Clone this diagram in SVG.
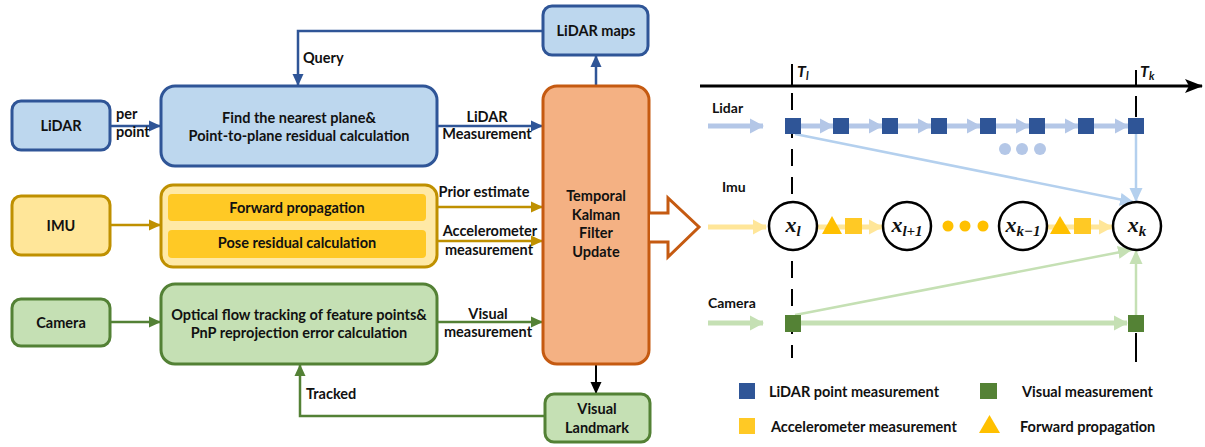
<svg xmlns="http://www.w3.org/2000/svg" width="1205" height="447" viewBox="0 0 1205 447">
<style>
text{font-family:Lato,"Liberation Sans",sans-serif;font-weight:bold;fill:#111;}
.t{font-size:14.5px;text-anchor:middle;}
.l{font-size:14.5px;}
.r{font-size:14px;}
.lg{font-size:14.5px;}
.bn{fill:#BDD7EE;stroke:#2F5597;stroke-width:3;}
.yn{fill:#FFE699;stroke:#BF9000;stroke-width:3;}
.gn{fill:#C5E0B4;stroke:#538135;stroke-width:3;}
.on{fill:#F4B183;stroke:#C55A11;stroke-width:3;}
.ab{stroke:#2F5597;stroke-width:2.5;fill:none;}
.ay{stroke:#BF9000;stroke-width:2.5;fill:none;}
.ag{stroke:#538135;stroke-width:2.5;fill:none;}
.lb{stroke:#B4C7E7;stroke-width:5;fill:none;}
.ly{stroke:#FFE699;stroke-width:5;fill:none;}
.lgr{stroke:#C5E0B4;stroke-width:5;fill:none;}
.math{font-family:"Liberation Serif",serif;font-style:italic;font-weight:bold;font-size:22px;text-anchor:middle;}
.dq{fill:#2F5597;}
.gq{fill:#548235;}
.yq{fill:#FFC925;}
.yt{fill:#FFC000;}
</style>
<defs>
<marker id="mb" markerUnits="userSpaceOnUse" markerWidth="12" markerHeight="12" refX="11" refY="6" orient="auto"><path d="M0,0.5 L12,6 L0,11.5 Z" fill="#2F5597"/></marker>
<marker id="my" markerUnits="userSpaceOnUse" markerWidth="12" markerHeight="12" refX="11" refY="6" orient="auto"><path d="M0,0.5 L12,6 L0,11.5 Z" fill="#BF9000"/></marker>
<marker id="mg" markerUnits="userSpaceOnUse" markerWidth="12" markerHeight="12" refX="11" refY="6" orient="auto"><path d="M0,0.5 L12,6 L0,11.5 Z" fill="#538135"/></marker>
<marker id="mk" markerUnits="userSpaceOnUse" markerWidth="12" markerHeight="12" refX="11" refY="6" orient="auto"><path d="M0,0.5 L12,6 L0,11.5 Z" fill="#000"/></marker>
<marker id="mlb" markerUnits="userSpaceOnUse" markerWidth="14" markerHeight="16" refX="13" refY="8" orient="auto"><path d="M0,0.5 L14,8 L0,15.5 Z" fill="#B4C7E7"/></marker>
<marker id="mly" markerUnits="userSpaceOnUse" markerWidth="14" markerHeight="16" refX="13" refY="8" orient="auto"><path d="M0,0.5 L14,8 L0,15.5 Z" fill="#FFE699"/></marker>
<marker id="mlg" markerUnits="userSpaceOnUse" markerWidth="14" markerHeight="16" refX="13" refY="8" orient="auto"><path d="M0,0.5 L14,8 L0,15.5 Z" fill="#C5E0B4"/></marker>
<marker id="mtb" markerUnits="userSpaceOnUse" markerWidth="14" markerHeight="14" refX="13" refY="7" orient="auto"><path d="M0,0.5 L14,7 L0,13.5 Z" fill="#B4D0EE"/></marker>
<marker id="mtg" markerUnits="userSpaceOnUse" markerWidth="14" markerHeight="14" refX="13" refY="7" orient="auto"><path d="M0,0.5 L14,7 L0,13.5 Z" fill="#C5E0B4"/></marker>
<marker id="max" markerUnits="userSpaceOnUse" markerWidth="18" markerHeight="14" refX="17" refY="7" orient="auto"><path d="M0,0 L18,7 L0,14 L4,7 Z" fill="#000"/></marker>
</defs>

<g id="connectors">
<path class="ab" d="M110,126 H160" marker-end="url(#mb)"/>
<path class="ab" d="M543,31 H298 V85" marker-end="url(#mb)"/>
<path class="ab" d="M437,126 H542" marker-end="url(#mb)"/>
<path class="ab" d="M596,86 V56" marker-end="url(#mb)"/>
<path class="ay" d="M110,225 H160" marker-end="url(#my)"/>
<path class="ay" d="M437,207 H542" marker-end="url(#my)"/>
<path class="ay" d="M437,241 H542" marker-end="url(#my)"/>
<path class="ag" d="M110,322 H160" marker-end="url(#mg)"/>
<path class="ag" d="M437,322 H542" marker-end="url(#mg)"/>
<path d="M596,364 V393" stroke="#000" stroke-width="2" fill="none" marker-end="url(#mk)"/>
<path class="ag" d="M546,416 H300 V365" marker-end="url(#mg)"/>
</g>

<g id="lidar"><rect class="bn" x="12" y="101" width="98" height="49" rx="9"/><text class="t" x="61" y="131">LiDAR</text></g>
<text class="l" x="116" y="119">per</text>
<text class="l" x="116" y="137">point</text>
<g id="find-plane"><rect class="bn" x="161" y="86" width="276" height="80" rx="14"/>
<text class="t" x="299" y="123">Find the nearest plane&amp;</text>
<text class="t" x="299" y="141">Point-to-plane residual calculation</text></g>
<text class="l" x="303" y="63">Query</text>
<g id="lidar-maps"><rect class="bn" x="543" y="6" width="105" height="49" rx="9"/><text class="t" x="596" y="36">LiDAR maps</text></g>
<text class="t" x="487" y="122">LiDAR</text>
<text class="t" x="487" y="139">Measurement</text>

<g id="kalman"><rect class="on" x="543" y="86" width="106" height="278" rx="14"/>
<text class="t" x="596" y="201">Temporal</text>
<text class="t" x="596" y="220">Kalman</text>
<text class="t" x="596" y="238">Filter</text>
<text class="t" x="596" y="257">Update</text></g>

<g id="imu"><rect class="yn" x="12" y="196" width="98" height="59" rx="9"/><text class="t" x="61" y="231">IMU</text></g>
<g id="imu-proc"><rect x="161" y="185" width="276" height="82" rx="12" fill="#FFE9A6" stroke="#BF9000" stroke-width="3"/>
<rect x="168" y="194" width="258" height="27" rx="4" fill="#FFC925"/>
<rect x="168" y="230" width="258" height="28" rx="4" fill="#FFC925"/>
<text class="t" x="297" y="213">Forward propagation</text>
<text class="t" x="297" y="248">Pose residual calculation</text></g>
<text class="t" x="484" y="197">Prior estimate</text>
<text class="t" x="490" y="236">Accelerometer</text>
<text class="t" x="489" y="255">measurement</text>

<g id="camera"><rect class="gn" x="12" y="299" width="98" height="47" rx="9"/><text class="t" x="61" y="328">Camera</text></g>
<g id="optical-flow"><rect class="gn" x="161" y="284" width="276" height="80" rx="14"/>
<text class="t" x="299" y="320">Optical flow tracking of feature points&amp;</text>
<text class="t" x="299" y="338">PnP reprojection error calculation</text></g>
<text class="t" x="488" y="319">Visual</text>
<text class="t" x="488" y="337">measurement</text>
<text class="l" x="306" y="399">Tracked</text>
<g id="visual-landmark"><rect class="gn" x="545" y="394" width="105" height="48" rx="9"/>
<text class="t" x="597" y="414">Visual</text>
<text class="t" x="597" y="433">Landmark</text></g>

<g id="big-arrow"><path d="M650,213 H668 V198 L699,227 L668,257 V242 H650" fill="#fff" stroke="#C55A11" stroke-width="3" stroke-linejoin="miter"/></g>

<g id="timeline">
<path d="M700,86 H1202" stroke="#000" stroke-width="3" fill="none" marker-end="url(#max)"/>
<path d="M792,64 V86" stroke="#000" stroke-width="2"/>
<path d="M1136,70 V86" stroke="#000" stroke-width="2"/>
<path d="M792,93 V358" stroke="#000" stroke-width="2" stroke-dasharray="17 11"/>
<path d="M1136,96 V117" stroke="#000" stroke-width="2"/>
<path d="M1136,333 V362" stroke="#000" stroke-width="2"/>
<text x="797" y="77" font-family="Liberation Serif,serif" font-style="italic" font-size="16" font-weight="bold">T<tspan font-size="11" dy="3">l</tspan></text>
<text x="1140" y="77" font-family="Liberation Serif,serif" font-style="italic" font-size="16" font-weight="bold">T<tspan font-size="11" dy="3">k</tspan></text>
</g>

<g id="right-connectors">
<path class="lb" d="M708,126 H763" marker-end="url(#mlb)"/>
<path class="lb" d="M801,126 H833" marker-end="url(#mlb)"/>
<path class="lb" d="M849,126 H882" marker-end="url(#mlb)"/>
<path class="lb" d="M898,126 H931" marker-end="url(#mlb)"/>
<path class="lb" d="M947,126 H980" marker-end="url(#mlb)"/>
<path class="lb" d="M996,126 H1029" marker-end="url(#mlb)"/>
<path class="lb" d="M1045,126 H1078" marker-end="url(#mlb)"/>
<path class="lb" d="M1094,126 H1128" marker-end="url(#mlb)"/>
<path d="M795,134 L1133,202" stroke="#B4D0EE" stroke-width="2.5" fill="none" marker-end="url(#mtb)"/>
<path d="M1136,134 V201" stroke="#B4D0EE" stroke-width="2.5" fill="none" marker-end="url(#mtb)"/>
<path class="ly" d="M708,227 H766" marker-end="url(#mly)"/>
<path class="ly" d="M818,227 H882" marker-end="url(#mly)"/>
<path class="ly" d="M1047,227 H1112" marker-end="url(#mly)"/>
<path class="lgr" d="M708,323 H763" marker-end="url(#mlg)"/>
<path class="lgr" d="M801,323 H1127" marker-end="url(#mlg)"/>
<path d="M795,315 L1131,250" stroke="#C5E0B4" stroke-width="2.5" fill="none" marker-end="url(#mtg)"/>
<path d="M1136,315 V251" stroke="#C5E0B4" stroke-width="2.5" fill="none" marker-end="url(#mtg)"/>
</g>

<text class="r" x="712" y="113">Lidar</text>
<text class="r" x="722" y="192">Imu</text>
<text class="r" x="708" y="308">Camera</text>

<g id="lidar-measurements">
<rect class="dq" x="785" y="118" width="16" height="16"/>
<rect class="dq" x="833" y="118" width="16" height="16"/>
<rect class="dq" x="882" y="118" width="16" height="16"/>
<rect class="dq" x="931" y="118" width="16" height="16"/>
<rect class="dq" x="980" y="118" width="16" height="16"/>
<rect class="dq" x="1029" y="118" width="16" height="16"/>
<rect class="dq" x="1078" y="118" width="16" height="16"/>
<rect class="dq" x="1128" y="118" width="16" height="16"/>
<circle cx="1005" cy="149" r="6" fill="#B4C7E7"/>
<circle cx="1022" cy="149" r="6" fill="#B4C7E7"/>
<circle cx="1040" cy="149" r="6" fill="#B4C7E7"/>
</g>

<g id="state-xl"><circle cx="793" cy="226" r="24" fill="#fff" stroke="#000" stroke-width="2.5"/><text class="math" x="793" y="232">x<tspan font-size="15" dy="4">l</tspan></text></g>
<g id="state-xl1"><circle cx="907" cy="226" r="24" fill="#fff" stroke="#000" stroke-width="2.5"/><text class="math" x="907" y="232">x<tspan font-size="15" dy="4">l+1</tspan></text></g>
<g id="state-xk1"><circle cx="1023" cy="226" r="24" fill="#fff" stroke="#000" stroke-width="2.5"/><text class="math" x="1023" y="232">x<tspan font-size="15" dy="4">k−1</tspan></text></g>
<g id="state-xk"><circle cx="1137" cy="226" r="24" fill="#fff" stroke="#000" stroke-width="2.5"/><text class="math" x="1137" y="232">x<tspan font-size="15" dy="4">k</tspan></text></g>

<g id="imu-measurements">
<path class="yt" d="M822,234 L832,216 L842,234 Z"/>
<rect class="yq" x="845" y="218" width="17" height="16"/>
<circle cx="948" cy="226" r="5.5" fill="#FFC000"/>
<circle cx="965" cy="226" r="5.5" fill="#FFC000"/>
<circle cx="983" cy="226" r="5.5" fill="#FFC000"/>
<path class="yt" d="M1050,234 L1060,216 L1071,234 Z"/>
<rect class="yq" x="1074" y="218" width="17" height="16"/>
</g>

<g id="camera-measurements">
<rect class="gq" x="785" y="315" width="16" height="17"/>
<rect class="gq" x="1128" y="315" width="16" height="17"/>
</g>

<g id="legend">
<rect class="dq" x="739" y="383" width="16" height="16"/>
<text class="lg" x="769" y="397">LiDAR point measurement</text>
<rect class="gq" x="980" y="383" width="17" height="16"/>
<text class="lg" x="1022" y="397">Visual measurement</text>
<rect class="yq" x="739" y="418" width="16" height="16"/>
<text class="lg" x="771" y="432">Accelerometer measurement</text>
<path class="yt" d="M979,433 L989.5,415 L1000,433 Z"/>
<text class="lg" x="1020" y="432">Forward propagation</text>
</g>
</svg>
